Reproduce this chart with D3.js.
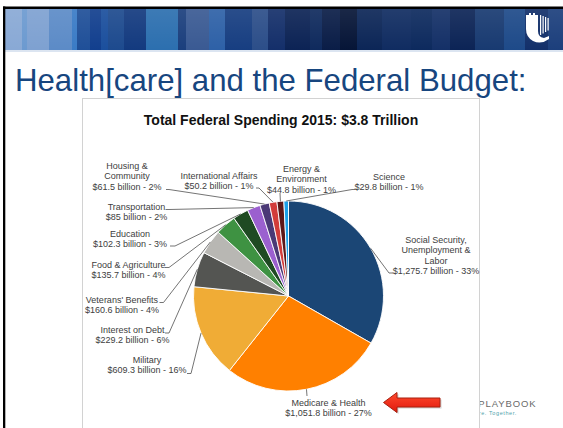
<!DOCTYPE html>
<html>
  <head>
    <meta charset="utf-8">
    <title>Health[care] and the Federal Budget</title>
    <script src="https://cdn.jsdelivr.net/npm/d3@7"></script>
    <style>
      body { margin: 0; background: #fff; }
      svg { display: block; font-family: "Liberation Sans", Arial, sans-serif; }
      .slice-label { font-size: 9px; fill: #404040; }
      .leader { fill: none; stroke: #505050; stroke-width: 0.8; }
    </style>
  </head>
  <body>
    <script>
    // data
    var categories = ["Social Security, Unemployment & Labor", "Medicare & Health", "Military",
      "Interest on Debt", "Veterans' Benefits", "Food & Agriculture", "Education",
      "Transportation", "Housing & Community", "International Affairs",
      "Energy & Environment", "Science"];
    var spending = [1275.7, 1051.8, 609.3, 229.2, 160.6, 135.7, 102.3, 85, 61.5, 50.2, 44.8, 29.8];
    var percents = [33, 27, 16, 6, 4, 4, 3, 2, 2, 1, 1, 1];
    var nameLines = [["Social Security,", "Unemployment &", "Labor"], ["Medicare & Health"], ["Military"],
      ["Interest on Debt"], ["Veterans' Benefits"], ["Food & Agriculture"], ["Education"],
      ["Transportation"], ["Housing &", "Community"], ["International Affairs"],
      ["Energy &", "Environment"], ["Science"]];
    var colors = ["#1b4675", "#ff8000", "#f0ac36", "#545552", "#b8b7b3", "#3e9242", "#1f4a23",
      "#9b60cf", "#4b3976", "#d23c3a", "#5b1718", "#1ba0e8"];

    // label placement (x centre, first baseline, leader start, elbow)
    var labelPos = [
      {x: 436, y: 243, ax: 393, ay: 273, ex: 389},
      {x: 328.5, y: 405.5, ax: 307, ay: 396, ex: 307},
      {x: 147, y: 363, ax: 187, ay: 373.5, ex: 191},
      {x: 132.5, y: 333, ax: 165, ay: 333, ex: 169},
      {x: 122, y: 303, ax: 159.5, ay: 302.5, ex: 163.5},
      {x: 128.5, y: 268, ax: 165, ay: 267.5, ex: 169},
      {x: 130, y: 236.5, ax: 170, ay: 246, ex: 175},
      {x: 136.5, y: 210, ax: 165.5, ay: 209.5, ex: 169},
      {x: 127, y: 169, ax: 166, ay: 189.5, ex: 169},
      {x: 219, y: 179, ax: 256, ay: 188, ex: 259},
      {x: 301.5, y: 172, ax: 280, ay: 193, ex: 280},
      {x: 389, y: 180, ax: 355, ay: 189.5, ex: 352}
    ];

    var W = 563, H = 428;
    var svg = d3.select("body").append("svg")
        .attr("width", W)
        .attr("height", H);

    // slide frame
    svg.append("rect").attr("x", 0).attr("y", 0).attr("width", W).attr("height", H).attr("fill", "#fff");

    // banner stripes
    var stripes = [
      [5, 22, "#89a9d5"], [22, 27, "#6c9ad0"], [27, 49, "#7ea1d1"], [49, 72, "#5c8bc7"],
      [72, 77, "#3a7bc6"], [77, 90, "#1f4f98"], [90, 101, "#123f8e"], [101, 108, "#1b4f9d"],
      [108, 124, "#1d4a8e"], [124, 146, "#133a7f"], [146, 178, "#2c6faf"], [178, 186, "#1b3f7d"],
      [186, 209, "#3a5a93"], [209, 225, "#2e61a7"], [225, 252, "#173e81"], [252, 268, "#2c4e89"],
      [268, 285, "#142f6a"], [285, 310, "#0c2355"], [310, 322, "#0f2a5d"], [322, 340, "#0a1d47"],
      [340, 357, "#061537"], [357, 382, "#0c2657"], [382, 411, "#102c61"], [411, 432, "#0d2a5e"],
      [432, 450, "#143067"], [450, 475, "#0c2456"], [475, 504, "#183a71"], [504, 525, "#1e4a89"],
      [525, 548, "#13306a"], [548, 563, "#1c3f7c"]
    ];
    var banner = svg.append("g");
    banner.selectAll("rect")
      .data(stripes)
      .enter()
      .append("rect")
        .attr("x", function(d) { return d[0]; })
        .attr("y", 9)
        .attr("width", function(d) { return d[1] - d[0]; })
        .attr("height", 41)
        .attr("fill", function(d) { return d[2]; });

    var shade = svg.append("defs").append("linearGradient")
        .attr("id", "shade").attr("x1", 0).attr("y1", 0).attr("x2", 0).attr("y2", 1);
    shade.append("stop").attr("offset", "0%").attr("stop-color", "#fff").attr("stop-opacity", 0.08);
    shade.append("stop").attr("offset", "100%").attr("stop-color", "#fff").attr("stop-opacity", 0);
    svg.append("rect").attr("x", 5).attr("y", 9).attr("width", W - 5).attr("height", 41).attr("fill", "url(#shade)");
    svg.append("rect").attr("x", 5).attr("y", 50).attr("width", W - 5).attr("height", 2).attr("fill", "#dce5f1");

    // logo
    var logo = svg.append("g").attr("fill", "#fff");
    logo.append("path")
      .attr("d", "M526,15 L529,15 L529,13 L531,13 L531,15 L533,15 L533,13 L535,13 L535,15 L538,15 " +
                 "L538,31 Q538,37 544,38 L549,36 L549,39 Q541,45 533,41 Q526,37 526,29 Z");
    [540, 542.5, 545, 547.5].forEach(function(x, i) {
      logo.append("rect").attr("x", x).attr("y", 15 + i).attr("width", 1.2).attr("height", 20 - i * 2.5);
    });

    // black slide edge
    svg.append("rect").attr("x", 3).attr("y", 6.5).attr("width", W - 3).attr("height", 2.5).attr("fill", "#000");
    svg.append("rect").attr("x", 3).attr("y", 6.5).attr("width", 2.3).attr("height", H).attr("fill", "#000");

    // slide title
    svg.append("text")
        .attr("x", 15)
        .attr("y", 91)
        .attr("font-size", 31.2)
        .attr("fill", "#17467f")
        .text("Health[care] and the Federal Budget:");

    // footer brand (partly behind the chart box)
    svg.append("text")
        .attr("x", 536.5)
        .attr("y", 406.5)
        .attr("text-anchor", "end")
        .attr("font-size", 9.5)
        .attr("letter-spacing", 0.9)
        .attr("fill", "#6a6a6a")
        .text("PLAYBOOK");
    svg.append("text")
        .attr("x", 517)
        .attr("y", 414.5)
        .attr("text-anchor", "end")
        .attr("font-size", 5.5)
        .attr("letter-spacing", 0.6)
        .attr("fill", "#4fa2aa")
        .text("Care. Together.");

    // chart box
    svg.append("rect")
        .attr("x", 82.5)
        .attr("y", 98.5)
        .attr("width", 397)
        .attr("height", 340)
        .attr("fill", "#fff")
        .attr("stroke", "#d2d2d2")
        .attr("stroke-width", 1);

    svg.append("text")
        .attr("x", 281)
        .attr("y", 125)
        .attr("text-anchor", "middle")
        .attr("font-size", 14)
        .attr("font-weight", "bold")
        .attr("fill", "#111")
        .text("Total Federal Spending 2015: $3.8 Trillion");

    // pie
    var cx = 288.5, cy = 296, radius = 95;
    var pie = d3.pie().sort(null).value(function(d) { return d; });
    var arcs = pie(spending);
    var arc = d3.arc().innerRadius(0).outerRadius(radius);
    var edge = d3.arc().innerRadius(radius).outerRadius(radius);

    var g = svg.append("g").attr("transform", "translate(" + cx + "," + cy + ")");
    g.selectAll(".slice")
      .data(arcs)
      .enter()
      .append("path")
        .attr("class", "slice")
        .attr("d", arc)
        .attr("fill", function(d, i) { return colors[i]; })
        .attr("stroke", "#fff")
        .attr("stroke-width", 0.9);

    // leader lines
    var fmt = d3.format(",");
    g.selectAll(".leader")
      .data(arcs)
      .enter()
      .append("path")
        .attr("class", "leader")
        .attr("d", function(d, i) {
          var p = labelPos[i];
          var e = edge.centroid(d);
          return "M" + (p.ax - cx) + "," + (p.ay - cy) +
                 "L" + (p.ex - cx) + "," + (p.ay - cy) +
                 "L" + e[0] + "," + e[1];
        });

    // labels
    var labels = svg.append("g");
    categories.forEach(function(c, i) {
      var p = labelPos[i];
      var lines = nameLines[i].concat(["$" + fmt(spending[i]) + " billion - " + percents[i] + "%"]);
      var t = labels.append("text")
          .attr("class", "slice-label")
          .attr("text-anchor", "middle");
      lines.forEach(function(l, j) {
        t.append("tspan")
          .attr("x", p.x)
          .attr("y", p.y + j * 10.3)
          .text(l);
      });
    });

    // red arrow pointing at Medicare
    var arrowGrad = svg.select("defs").append("linearGradient")
        .attr("id", "arrowGrad").attr("x1", 0).attr("y1", 0).attr("x2", 0).attr("y2", 1);
    arrowGrad.append("stop").attr("offset", "0%").attr("stop-color", "#ff4a2e");
    arrowGrad.append("stop").attr("offset", "100%").attr("stop-color", "#e0190d");
    var arrow = d3.path();
    arrow.moveTo(383.5, 402.5);
    arrow.lineTo(397, 392.5);
    arrow.lineTo(397, 398);
    arrow.lineTo(440, 398);
    arrow.lineTo(440, 407);
    arrow.lineTo(397, 407);
    arrow.lineTo(397, 412.5);
    arrow.closePath();
    svg.append("path")
        .attr("d", arrow.toString())
        .attr("transform", "translate(1.5,1.5)")
        .attr("fill", "#000")
        .attr("opacity", 0.18);
    svg.append("path")
        .attr("d", arrow.toString())
        .attr("fill", "url(#arrowGrad)")
        .attr("stroke", "#a8200f")
        .attr("stroke-width", 1);
    </script>
  </body>
</html>
